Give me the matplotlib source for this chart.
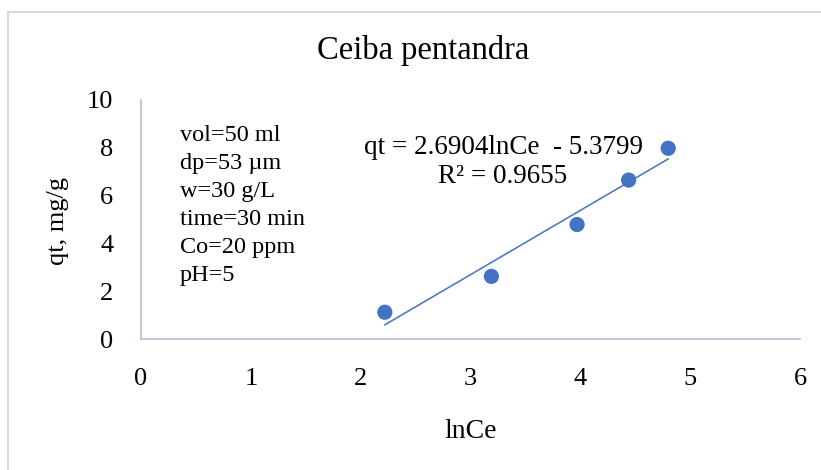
import matplotlib
matplotlib.use("Agg")
import matplotlib.pyplot as plt
from matplotlib.patches import Rectangle
import numpy as np

# Data
lnCe = [2.22, 3.19, 3.97, 4.44, 4.80]
qt = [1.12, 2.62, 4.79, 6.65, 7.98]
slope = 2.6904
intercept = -5.3799
x_ticks = [0, 1, 2, 3, 4, 5, 6]
y_ticks = [0, 2, 4, 6, 8, 10]
conditions = ["vol=50 ml", "dp=53 \u00b5m", "w=30 g/L", "time=30 min", "Co=20 ppm", "pH=5"]
title = "Ceiba pentandra"
eq_text = "qt = 2.6904lnCe  - 5.3799"
r2_text = "R\u00b2 = 0.9655"

plt.rcParams['font.family'] = ['Liberation Serif', 'DejaVu Serif']

blue = '#4472C4'
axcol = '#B4C0D8'

fig = plt.figure(figsize=(8.21, 4.70), dpi=100)
fig.patches.append(Rectangle((8/821, -0.1), 1.1, 1 - 12/470 + 0.1, transform=fig.transFigure,
                             fill=False, edgecolor='#D9D9D9', linewidth=1.5))

ax = fig.add_axes([141/821, 1 - 339/470, (800 - 141)/821, (339 - 100)/470])
ax.set_xlim(0, 6)
ax.set_ylim(0, 10)
ax.set_xticks(x_ticks)
ax.set_yticks(y_ticks)
for s in ['top', 'right']:
    ax.spines[s].set_visible(False)
for s in ['left', 'bottom']:
    ax.spines[s].set_color(axcol)
    ax.spines[s].set_linewidth(1.2)
ax.tick_params(axis='both', length=0, labelsize=19)
ax.tick_params(axis='x', pad=21)
ax.tick_params(axis='y', pad=20)

xs = np.array([min(lnCe), max(lnCe)])
ax.plot(xs, slope * xs + intercept, color=blue, lw=1.1, zorder=2)
ax.scatter(lnCe, qt, s=120, color=blue, zorder=3, edgecolors='none')

fig.text(471/821, 1 - 431/470, "lnCe", ha='center', va='center', fontsize=20)
fig.text(58/821, 1 - 221/470, "qt, mg/g", ha='center', va='center', fontsize=19, rotation=90)

fig.text(423/821, 1 - 50/470, title, ha='center', va='center', fontsize=23.5)

fig.text(180/821, 1 - 125/470, "\n".join(conditions), ha='left', va='top', fontsize=17.5,
         linespacing=1.44)

fig.text(503/821, 1 - 147/470, eq_text, ha='center', va='center', fontsize=19.5)
fig.text(503/821, 1 - 177/470, r2_text, ha='center', va='center', fontsize=19.5)

fig.savefig("out.png", dpi=100)
